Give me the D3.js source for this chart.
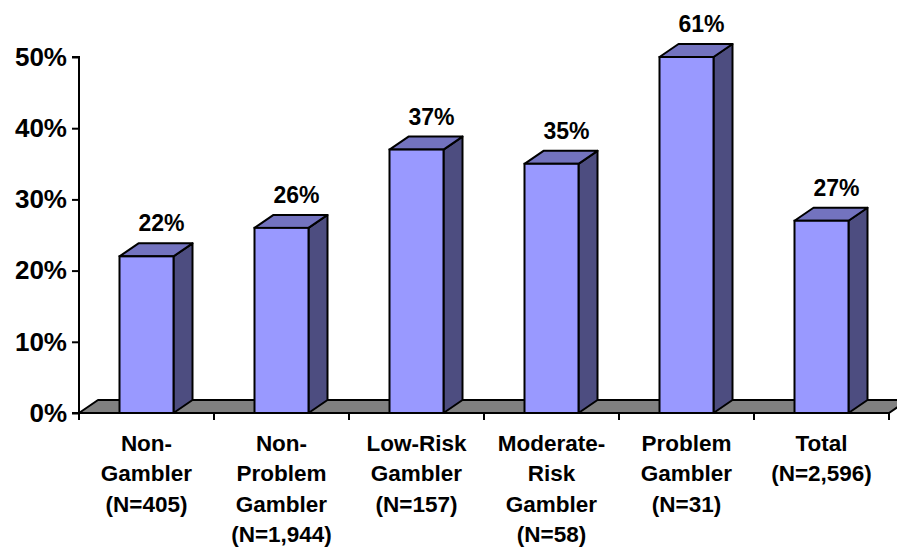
<!DOCTYPE html>
<html>
<head>
<meta charset="utf-8">
<script src="https://cdn.jsdelivr.net/npm/d3@7/dist/d3.min.js"></script>
<style>
  html, body { margin: 0; padding: 0; background: #fff; }
  svg { display: block; font-family: Arial, "Liberation Sans", sans-serif; font-weight: bold; }
</style>
</head>
<body>
<svg id="chart" width="897" height="550"></svg>
<script>
// Share of each gambler group (percent) with the category labels underneath
const categories = [
  ["Non-", "Gambler", "(N=405)"],
  ["Non-", "Problem", "Gambler", "(N=1,944)"],
  ["Low-Risk", "Gambler", "(N=157)"],
  ["Moderate-", "Risk", "Gambler", "(N=58)"],
  ["Problem", "Gambler", "(N=31)"],
  ["Total", "(N=2,596)"]
];
const values = [22, 26, 37, 35, 61, 27];
const yTicks = [0, 10, 20, 30, 40, 50];

const svg = d3.select("#chart");
const plotLeft = 79, plotRight = 889, plotTop = 57, plotBottom = 413;
const depthX = 19, depthY = -13;

const x = d3.scaleBand().domain(d3.range(categories.length)).range([plotLeft, plotRight]).paddingInner(0).paddingOuter(0);
const y = d3.scaleLinear().domain([0, 50]).range([plotBottom, plotTop]).clamp(true);
const barW = x.bandwidth() * 0.4;

const colors = { front: "#9999ff", side: "#4d4d80", top: "#7373bf", floor: "#808080" };

// Floor plane
svg.append("path")
  .attr("d", `M${plotLeft},${plotBottom} L${plotRight},${plotBottom} L${plotRight + depthX},${plotBottom + depthY} L${plotLeft + depthX},${plotBottom + depthY} Z`)
  .attr("fill", colors.floor).attr("stroke", "#000").attr("stroke-width", 2).attr("stroke-linejoin", "round");

// 3D bars (values above 50% are cut at the top of the axis)
const bars = svg.append("g").selectAll("g").data(values).join("g");
bars.each(function (v, i) {
  const g = d3.select(this);
  const x0 = x(i) + (x.bandwidth() - barW) / 2, x1 = x0 + barW;
  const yt = y(v), yb = y(0);
  g.append("path")
    .attr("d", `M${x1},${yb} L${x1 + depthX},${yb + depthY} L${x1 + depthX},${yt + depthY} L${x1},${yt} Z`)
    .attr("fill", colors.side).attr("stroke", "#000").attr("stroke-width", 2).attr("stroke-linejoin", "round");
  g.append("path")
    .attr("d", `M${x0},${yt} L${x0 + depthX},${yt + depthY} L${x1 + depthX},${yt + depthY} L${x1},${yt} Z`)
    .attr("fill", colors.top).attr("stroke", "#000").attr("stroke-width", 2).attr("stroke-linejoin", "round");
  g.append("rect")
    .attr("x", x0).attr("y", yt).attr("width", barW).attr("height", yb - yt)
    .attr("fill", colors.front).attr("stroke", "#000").attr("stroke-width", 2);
  g.append("text")
    .attr("x", x(i) + x.bandwidth() / 2 + 15)
    .attr("y", yt + depthY - 12)
    .attr("text-anchor", "middle")
    .attr("font-size", 23)
    .text(v + "%");
});

// Y axis
const yAxis = svg.append("g").attr("transform", `translate(${plotLeft},0)`)
  .call(d3.axisLeft(y).tickValues(yTicks).tickSize(7).tickPadding(5).tickFormat(d => d + "%"));
yAxis.select(".domain").attr("stroke", "#000").attr("stroke-width", 2).attr("d", `M-7,${plotTop}H0V${plotBottom}H-7`);
yAxis.selectAll(".tick line").attr("stroke", "#000").attr("stroke-width", 2);
yAxis.selectAll(".tick text").attr("font-size", 26).attr("font-weight", "bold").attr("font-family", "Arial, 'Liberation Sans', sans-serif").attr("fill", "#000");

// X axis line and category boundary ticks
const xAxis = svg.append("g");
xAxis.append("line").attr("x1", plotLeft).attr("x2", plotRight).attr("y1", plotBottom).attr("y2", plotBottom).attr("stroke", "#000").attr("stroke-width", 2);
xAxis.selectAll("line.tk").data(d3.range(categories.length + 1)).join("line")
  .attr("class", "tk")
  .attr("x1", d => plotLeft + d * x.bandwidth()).attr("x2", d => plotLeft + d * x.bandwidth())
  .attr("y1", plotBottom).attr("y2", plotBottom + 7)
  .attr("stroke", "#000").attr("stroke-width", 2);

// Multi-line category labels
const cat = svg.append("g").selectAll("text").data(categories).join("text")
  .attr("text-anchor", "middle")
  .attr("font-size", 22.5)
  .attr("x", (d, i) => x(i) + x.bandwidth() / 2)
  .attr("y", 451);
cat.selectAll("tspan").data(d => d).join("tspan")
  .attr("x", function () { return d3.select(this.parentNode).attr("x"); })
  .attr("dy", (d, j) => j === 0 ? 0 : 30.3)
  .text(d => d);
</script>
</body>
</html>
